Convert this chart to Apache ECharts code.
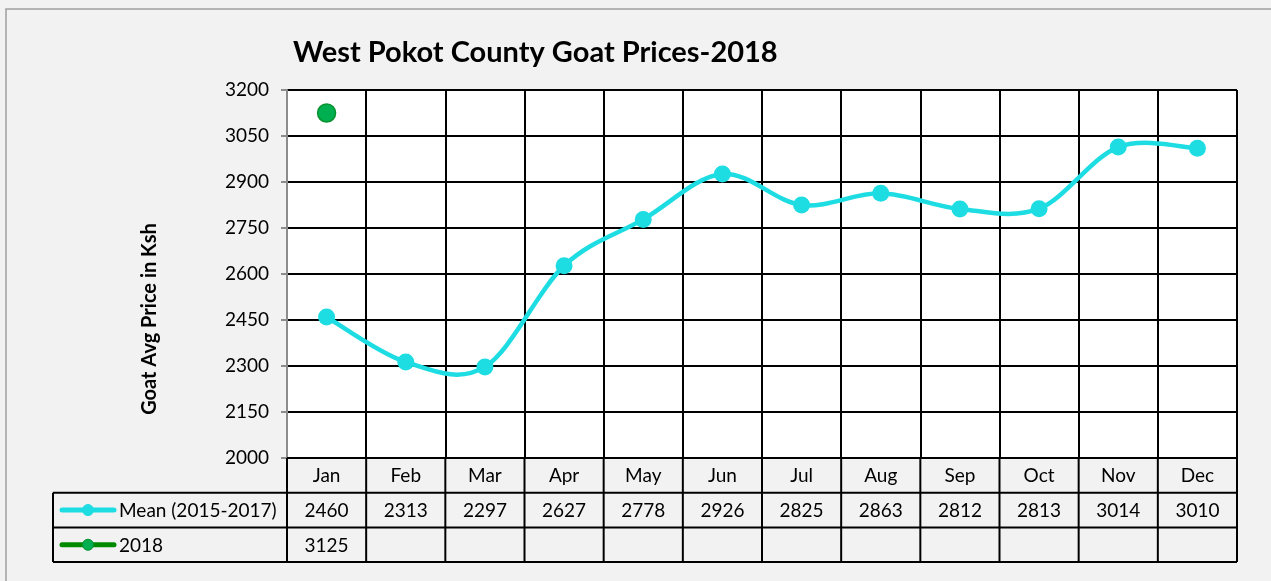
<!DOCTYPE html>
<html>
<head>
<meta charset="utf-8">
<script src="https://cdn.jsdelivr.net/npm/echarts@6/dist/echarts.min.js"></script>
<style>
  html, body { margin: 0; padding: 0; background: #f2f2f2; }
  #chart { width: 1271px; height: 581px; }
</style>
</head>
<body>
<div id="chart"></div>
<script>
// Monthly goat prices, West Pokot County (Ksh)
const months = ['Jan', 'Feb', 'Mar', 'Apr', 'May', 'Jun', 'Jul', 'Aug', 'Sep', 'Oct', 'Nov', 'Dec'];
const meanPrices = [2460, 2313, 2297, 2627, 2778, 2926, 2825, 2863, 2812, 2813, 3014, 3010];
const prices2018 = [3125, null, null, null, null, null, null, null, null, null, null, null];
const seriesNames = ['Mean (2015-2017)', '2018'];
const yMin = 2000, yMax = 3200, yStep = 150;

const FONT = 'Lato, "Open Sans", sans-serif';
const CYAN = '#1ddde3';
const GREEN_LINE = '#008a00';
const GREEN_FILL = '#00b050';
const GREEN_EDGE = '#07912f';

const chart = echarts.init(document.getElementById('chart'), null, { renderer: 'canvas' });

// Cardinal-spline segment between point i and i+1 (endpoints repeat themselves)
function renderSmoothSegment(params, api) {
  const i = params.dataIndex;
  const n = meanPrices.length;
  if (i >= n - 1) return null;
  const p = k => api.coord([Math.max(0, Math.min(n - 1, k)), meanPrices[Math.max(0, Math.min(n - 1, k))]]);
  const p0 = p(i - 1), p1 = p(i), p2 = p(i + 1), p3 = p(i + 2);
  const t = 1 / 6;
  return {
    type: 'bezierCurve',
    shape: {
      x1: p1[0], y1: p1[1],
      x2: p2[0], y2: p2[1],
      cpx1: p1[0] + (p2[0] - p0[0]) * t, cpy1: p1[1] + (p2[1] - p0[1]) * t,
      cpx2: p2[0] - (p3[0] - p1[0]) * t, cpy2: p2[1] - (p3[1] - p1[1]) * t
    },
    style: { stroke: CYAN, lineWidth: 4.5, fill: 'none', lineCap: 'round' }
  };
}

const baseOption = {
  backgroundColor: '#f2f2f2',
  animation: false,
  title: {
    text: 'West Pokot County Goat Prices-2018',
    left: 288, top: 33,
    textStyle: { fontFamily: FONT, fontSize: 29, fontWeight: 'bold', color: '#000' }
  },
  grid: {
    left: 287, right: 34, top: 90, bottom: 123,
    show: true, backgroundColor: '#ffffff', borderWidth: 0
  },
  xAxis: {
    type: 'category',
    data: months,
    boundaryGap: true,
    axisLine: { show: false },
    axisTick: { show: false },
    axisLabel: { show: false },
    splitLine: { show: true, interval: 0, lineStyle: { color: '#000', width: 2 } }
  },
  yAxis: {
    type: 'value',
    min: yMin, max: yMax, interval: yStep,
    axisLine: { show: true, lineStyle: { color: '#8c8c8c', width: 2 } },
    axisTick: { show: true, length: 6, lineStyle: { color: '#8c8c8c', width: 2 } },
    axisLabel: { margin: 18, fontFamily: FONT, fontSize: 19, color: '#000', formatter: v => String(v) },
    splitLine: { show: true, lineStyle: { color: '#000', width: 2 } }
  },
  series: [
    {
      name: seriesNames[0] + ' curve',
      type: 'custom',
      data: meanPrices.map((v, i) => [i, v]),
      renderItem: renderSmoothSegment,
      z: 2
    },
    {
      name: seriesNames[0],
      type: 'line',
      data: meanPrices,
      symbol: 'circle',
      symbolSize: 17,
      lineStyle: { opacity: 0 },
      itemStyle: { color: CYAN, borderColor: CYAN, borderWidth: 0 },
      z: 3
    },
    {
      name: seriesNames[1],
      type: 'line',
      data: prices2018,
      symbol: 'circle',
      symbolSize: 18,
      lineStyle: { color: GREEN_LINE, width: 4.5 },
      itemStyle: { color: GREEN_FILL, borderColor: GREEN_EDGE, borderWidth: 1.5 },
      z: 4
    }
  ]
};

chart.setOption(baseOption);

// Data table under the plot, laid out on the category axis
function buildTable() {
  const n = months.length;
  const c0 = chart.convertToPixel({ xAxisIndex: 0 }, 0);
  const c1 = chart.convertToPixel({ xAxisIndex: 0 }, 1);
  const cw = c1 - c0;
  const left = c0 - cw / 2;
  const right = left + cw * n;
  const top = chart.convertToPixel({ yAxisIndex: 0 }, yMin);
  const rowH = 34.7;
  const r1 = top + rowH, r2 = top + rowH * 2, r3 = top + rowH * 3;
  const legendLeft = 53;

  const black = { stroke: '#000', lineWidth: 2 };
  const g = [];
  const line = (x1, y1, x2, y2) => g.push({ type: 'line', shape: { x1, y1, x2, y2 }, style: black, z: 10 });
  const text = (x, y, s, align) => g.push({
    type: 'text', x, y, z: 11,
    style: { text: s, fontFamily: FONT, fontSize: 19, fill: '#000', align: align || 'center', verticalAlign: 'middle' }
  });

  // horizontal rules
  line(left, top, right, top);
  line(legendLeft, r1, right, r1);
  line(legendLeft, r2, right, r2);
  line(legendLeft, r3, right, r3);
  // vertical rules
  for (let i = 0; i <= n; i++) {
    const x = left + cw * i;
    line(x, top, x, r3);
  }
  line(legendLeft, r1, legendLeft, r3);

  // cell texts
  for (let i = 0; i < n; i++) {
    const cx = chart.convertToPixel({ xAxisIndex: 0 }, i);
    text(cx, (top + r1) / 2 + 1, months[i]);
    if (meanPrices[i] != null) text(cx, (r1 + r2) / 2 + 1, String(meanPrices[i]));
    if (prices2018[i] != null) text(cx, (r2 + r3) / 2 + 1, String(prices2018[i]));
  }

  // legend keys
  const keys = [
    { y: (r1 + r2) / 2, lc: CYAN, fill: CYAN, stroke: CYAN, label: seriesNames[0] },
    { y: (r2 + r3) / 2, lc: GREEN_LINE, fill: GREEN_FILL, stroke: GREEN_EDGE, label: seriesNames[1] }
  ];
  keys.forEach(k => {
    g.push({ type: 'line', z: 11, shape: { x1: 62, y1: k.y, x2: 114, y2: k.y },
      style: { stroke: k.lc, lineWidth: 5, lineCap: 'round' } });
    g.push({ type: 'circle', z: 12, shape: { cx: 88, cy: k.y, r: 5.5 },
      style: { fill: k.fill, stroke: k.stroke, lineWidth: 1 } });
    text(119, k.y + 1, k.label, 'left');
  });

  // axis title
  g.push({
    type: 'text', x: 150, y: 319, rotation: Math.PI / 2, z: 11,
    style: { text: 'Goat Avg Price in Ksh', fontFamily: FONT, fontSize: 20, fontWeight: 'bold',
      fill: '#000', align: 'center', verticalAlign: 'middle' }
  });

  // outer chart frame
  g.push({ type: 'rect', z: 0, shape: { x: 6, y: 9, width: 1300, height: 620 },
    style: { fill: 'none', stroke: '#a0a0a0', lineWidth: 1.5 } });

  chart.setOption({ graphic: { elements: g } });
}
buildTable();
</script>
</body>
</html>
